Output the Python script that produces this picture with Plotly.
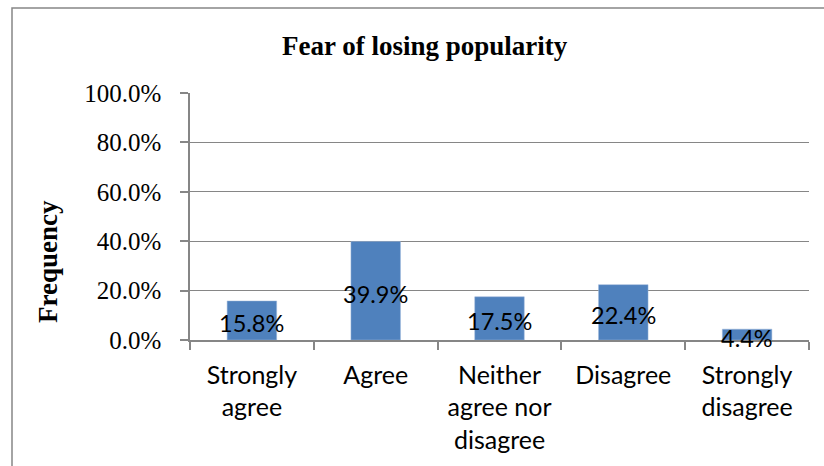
import plotly.graph_objects as go

categories = ["Strongly<br>agree", "Agree", "Neither<br>agree nor<br>disagree", "Disagree", "Strongly<br>disagree"]
values = [0.158, 0.399, 0.175, 0.224, 0.044]
labels = ["15.8%", "39.9%", "17.5%", "22.4%", "4.4%"]
title_text = "Fear of losing popularity"
y_title = "Frequency"

W, H = 824, 466
L, R, T, B = 190, 15, 93, 126
pw, ph = W - L - R, H - T - B

def px_x(x):
    return (x - L) / pw

def px_y(y):
    return (H - B - y) / ph

gray = "#868686"
serif = "Liberation Serif, Times New Roman, serif"
sans = "Lato, Carlito, Calibri, sans-serif"

fig = go.Figure()
fig.add_trace(go.Bar(
    x=categories, y=values,
    marker=dict(color="#4F81BD", line=dict(color="#9DB7DA", width=0.5)),
    hoverinfo="skip",
))

annotations = []
for c, v, t in zip(categories, values, labels):
    annotations.append(dict(x=c, y=v / 2, xref="x", yref="y", text=t, showarrow=False,
                            yshift=-3, font=dict(family=sans, size=23.5, color="black")))
annotations.append(dict(x=px_x(425), y=px_y(46), xref="paper", yref="paper", text="<b>" + title_text + "</b>",
                        xanchor="center", yanchor="middle",
                        showarrow=False, font=dict(family=serif, size=27, color="black")))
annotations.append(dict(x=px_x(48), y=px_y(262), xref="paper", yref="paper", text="<b>" + y_title + "</b>",
                        xanchor="center", yanchor="middle",
                        textangle=-90, showarrow=False, font=dict(family=serif, size=27, color="black")))

fig.update_layout(
    width=W, height=H,
    margin=dict(l=L, r=R, t=T, b=B, pad=0),
    paper_bgcolor="white", plot_bgcolor="white",
    showlegend=False,
    bargap=0.6,
    annotations=annotations,
    shapes=[dict(type="rect", xref="paper", yref="paper",
                 x0=px_x(12), x1=px_x(840), y0=px_y(480), y1=px_y(8),
                 line=dict(color=gray, width=1.5), fillcolor="rgba(0,0,0,0)", layer="below")],
)

fig.update_yaxes(
    range=[0, 1], dtick=0.2, tickformat=".1%",
    showgrid=True, gridcolor=gray, gridwidth=1.2,
    showline=True, linecolor=gray, linewidth=1.5,
    ticks="outside", ticklen=8, tickcolor=gray, tickwidth=1.5,
    ticklabelstandoff=14,
    tickfont=dict(family=serif, size=25, color="black"),
    zeroline=False, fixedrange=True,
)
fig.update_xaxes(
    showline=True, linecolor=gray, linewidth=1.5,
    ticks="outside", ticklen=8, tickcolor=gray, tickwidth=1.5,
    tickson="boundaries",
    ticklabelstandoff=12,
    tickfont=dict(family=sans, size=25, color="black"),
    fixedrange=True,
)

fig.write_html("out.html", config={"displayModeBar": False},
               post_script="document.body.style.margin='0';document.body.style.overflow='hidden';")
